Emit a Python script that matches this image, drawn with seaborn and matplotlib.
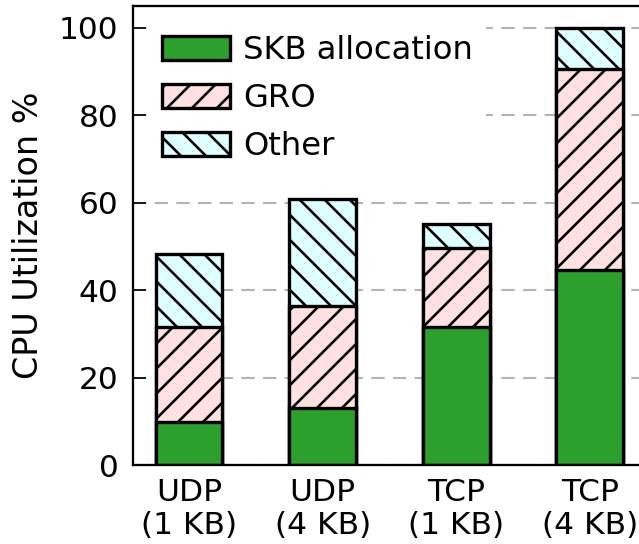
import matplotlib
matplotlib.use("Agg")
import matplotlib.pyplot as plt
import seaborn as sns
import numpy as np
import pandas as pd

categories = ["UDP\n(1 KB)", "UDP\n(4 KB)", "TCP\n(1 KB)", "TCP\n(4 KB)"]
skb_alloc = [9.8, 13.1, 31.5, 44.6]
gro = [21.7, 23.3, 18.1, 46.0]
other = [16.7, 24.5, 5.5, 9.4]
series_names = ["SKB allocation", "GRO", "Other"]
y_ticks = [0, 20, 40, 60, 80, 100]

sns.set_theme(style="white")
plt.rcParams["font.family"] = ["DejaVu Sans"]
plt.rcParams["hatch.linewidth"] = 1.25
plt.rcParams["hatch.color"] = "black"
plt.rcParams["text.color"] = "black"
plt.rcParams["axes.labelcolor"] = "black"
plt.rcParams["xtick.color"] = "black"
plt.rcParams["ytick.color"] = "black"

FS_TICK = 15.0
FS_LEG = 15.5
FS_LABEL = 16
DPI = 150
fig = plt.figure(figsize=(639 / DPI, 544 / DPI), dpi=DPI)
ax = fig.add_axes([0.2081, 0.1452, 0.8028, 0.8437])

df = pd.DataFrame({
    "cat": categories,
    "skb": skb_alloc,
    "gro": gro,
    "other": other,
})
df["lvl1"] = df["skb"]
df["lvl2"] = df["skb"] + df["gro"]
df["lvl3"] = df["skb"] + df["gro"] + df["other"]

common = dict(width=0.5, edgecolor="black", linewidth=1.6, ax=ax,
              order=categories, errorbar=None, saturation=1)
sns.barplot(data=df, x="cat", y="lvl3", color="#ddffff", hatch="\\\\", **common)
sns.barplot(data=df, x="cat", y="lvl2", color="#ffe1e1", hatch="//", **common)
sns.barplot(data=df, x="cat", y="lvl1", color="#2ca02c", **common)

# Legend handles from containers (order: SKB, GRO, Other)
handles = [ax.containers[2][0], ax.containers[1][0], ax.containers[0][0]]
leg = ax.legend(handles, series_names, loc="upper left", fontsize=FS_LEG,
                frameon=True, fancybox=False, framealpha=1,
                facecolor="white", edgecolor="none",
                handlelength=2.1, handleheight=0.77, handletextpad=0.4,
                labelspacing=0.53)

ax.set_xlim(-0.42, 3.42)
ax.set_ylim(0, 105)
ax.set_yticks(y_ticks)
ax.set_xlabel("")
ax.set_ylabel("CPU Utilization %", fontsize=FS_LABEL, labelpad=6.5)
ax.tick_params(axis="y", direction="in", length=6, width=0.8, labelsize=FS_TICK,
               pad=7, left=True, color="black")
ax.tick_params(axis="x", length=0, labelsize=FS_TICK, pad=6)
ax.yaxis.grid(True, color="#b3b3b3", linewidth=1.0, linestyle=(0, (6.4, 4)))
ax.xaxis.grid(False)
ax.set_axisbelow(True)
for s in ax.spines.values():
    s.set_color("black")
    s.set_linewidth(1.1)

fig.savefig("out.png", dpi=DPI)
